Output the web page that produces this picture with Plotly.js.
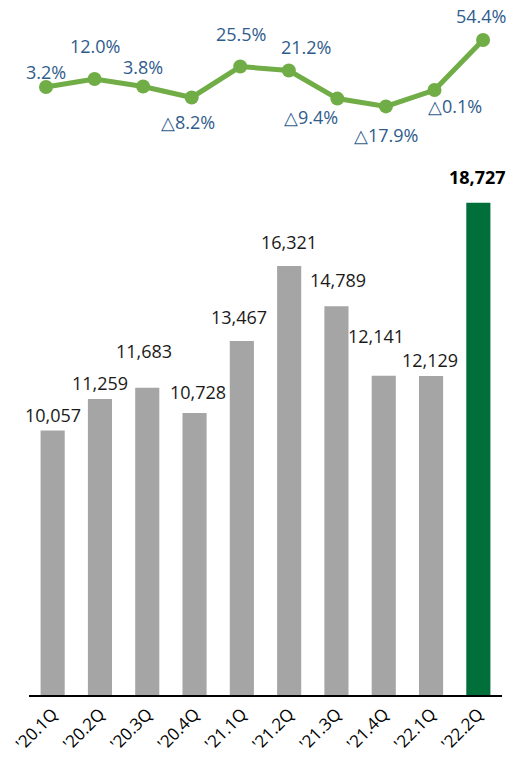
<!DOCTYPE html>
<html>
<head>
<meta charset="utf-8">
<script src="https://cdn.plot.ly/plotly-3.0.1.min.js"></script>
<style>html,body{margin:0;padding:0;background:#fff;}#chart{width:513px;height:757px;}</style>
</head>
<body>
<div id="chart"></div>
<script>
// ---- data ----
var quarters = ["'20.1Q","'20.2Q","'20.3Q","'20.4Q","'21.1Q","'21.2Q","'21.3Q","'21.4Q","'22.1Q","'22.2Q"];
var salesValues = [10057, 11259, 11683, 10728, 13467, 16321, 14789, 12141, 12129, 18727];
var growthRates = [3.2, 12.0, 3.8, -8.2, 25.5, 21.2, -9.4, -17.9, -0.1, 54.4];

// ---- label placement (layout only) ----
var barLabelShift = [[0,16],[0,16],[-3,37],[3,21],[-3,24],[0,24],[2,26],[-8,40],[-1,16],[-1,26]];
var lineLabelShift = [[0,15],[0,33],[0,19],[-4,-25],[1,33],[17,23],[-26,-18],[0,-29],[20,-16],[-2,24]];

var FONT = "'Open Sans', 'Noto Sans', sans-serif";
var n = quarters.length;
var barColors = quarters.map(function(q,i){ return i === n-1 ? '#006F3A' : '#A5A5A5'; });

var bars = {
  type: 'bar', x: quarters, y: salesValues,
  marker: {color: barColors}, xaxis: 'x', yaxis: 'y',
  hoverinfo: 'skip', showlegend: false
};
var line = {
  type: 'scatter', mode: 'lines+markers', x: quarters, y: growthRates,
  xaxis: 'x2', yaxis: 'y2',
  line: {color: '#70AD47', width: 5},
  marker: {color: '#70AD47', size: 14},
  hoverinfo: 'skip', showlegend: false
};

function fmtNum(v){ return v.toLocaleString('en-US'); }
function fmtPct(v){ return (v < 0 ? '\u25B3' + Math.abs(v).toFixed(1) : v.toFixed(1)) + '%'; }

var annotations = [];
salesValues.forEach(function(v,i){
  var last = i === n-1;
  annotations.push({
    x: quarters[i], y: v, xref: 'x', yref: 'y',
    text: last ? '<b>' + fmtNum(v) + '</b>' : fmtNum(v),
    showarrow: false, yanchor: 'middle', xanchor: 'center',
    xshift: barLabelShift[i][0], yshift: barLabelShift[i][1],
    font: {family: FONT, size: 18, color: last ? '#000000' : '#1a1a1a'}
  });
});
growthRates.forEach(function(v,i){
  annotations.push({
    x: quarters[i], y: v, xref: 'x2', yref: 'y2',
    text: fmtPct(v),
    showarrow: false, yanchor: 'middle', xanchor: 'center',
    xshift: lineLabelShift[i][0], yshift: lineLabelShift[i][1],
    font: {family: FONT, size: 18, color: '#2F5C8C'}
  });
});

var layout = {
  width: 513, height: 757,
  margin: {l: 29, r: 11, t: 0, b: 62},
  paper_bgcolor: '#ffffff', plot_bgcolor: 'rgba(0,0,0,0)',
  font: {family: FONT, size: 16, color: '#000'},
  bargap: 0.49,
  xaxis: {
    type: 'category', range: [-0.5, 9.5], anchor: 'y',
    showline: true, linecolor: '#000', linewidth: 1.5,
    ticks: '', tickangle: -45, ticklabelstandoff: 1,
    tickfont: {family: FONT, size: 17, color: '#000'},
    showgrid: false, zeroline: false, fixedrange: true
  },
  yaxis: {
    domain: [0, 0.7566], range: [0, 20000],
    visible: false, showgrid: false, zeroline: false, fixedrange: true
  },
  xaxis2: {
    type: 'category', anchor: 'y2', overlaying: 'x', range: [-0.35, 9.39],
    visible: false, showgrid: false, zeroline: false, fixedrange: true
  },
  yaxis2: {
    domain: [0.7842, 1], range: [-65.4, 98],
    visible: false, showgrid: false, zeroline: false, fixedrange: true
  },
  annotations: annotations
};

Plotly.newPlot('chart', [bars, line], layout, {displayModeBar: false, staticPlot: true});
</script>
</body>
</html>
